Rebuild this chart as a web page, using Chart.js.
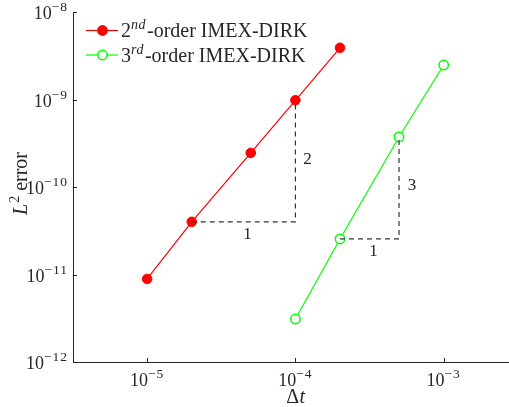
<!DOCTYPE html>
<html>
<head>
<meta charset="utf-8">
<script src="https://cdn.jsdelivr.net/npm/chart.js@4/dist/chart.umd.min.js"></script>
<style>
html,body{margin:0;padding:0;background:#fff;overflow:hidden;}
#wrap{width:524px;height:407px;}
</style>
</head>
<body>
<div id="wrap"><canvas id="c" width="524" height="407"></canvas></div>
<script>
// ---- data ----
const dt2 = [1e-5, 2e-5, 5e-5, 1e-4, 2e-4];
const err2 = [8.9e-12, 4.0e-11, 2.45e-10, 9.8e-10, 3.9e-9];
const dt3 = [1e-4, 2e-4, 5e-4, 1e-3];
const err3 = [3.1e-12, 2.55e-11, 3.73e-10, 2.48e-9];
const tri2X = [2e-5, 1e-4, 1e-4];
const tri2Y = [4.0e-11, 4.0e-11, 9.8e-10];
const tri3X = [2e-4, 5e-4, 5e-4];
const tri3Y = [2.55e-11, 2.55e-11, 3.73e-10];
const xTickVals = [1e-5, 1e-4, 1e-3];
const xTickExp = ['\u22125', '\u22124', '\u22123'];
const yTickVals = [1e-8, 1e-9, 1e-10, 1e-11, 1e-12];
const yTickExp = ['\u22128', '\u22129', '\u221210', '\u221211', '\u221212'];
const seriesNames = [['2','nd','-order IMEX-DIRK'], ['3','rd','-order IMEX-DIRK']];

const FONT = '"Liberation Serif", "DejaVu Serif", serif';
const TXT = '#262626';

function pts(xs, ys){ return xs.map((x,i)=>({x:x, y:ys[i]})); }

function drawSup(ctx, base, sup, x, y, align, size, ssize, raise, supStyle, ls){
  supStyle = supStyle || '';
  ls = ls || '0px';
  ctx.letterSpacing = '0px';
  ctx.font = size + 'px ' + FONT;
  const wb = ctx.measureText(base).width;
  ctx.letterSpacing = ls;
  ctx.font = supStyle + ssize + 'px ' + FONT;
  const ws = ctx.measureText(sup).width;
  const tot = wb + ws;
  let x0 = x;
  if (align === 'center') x0 = x - tot/2;
  else if (align === 'right') x0 = x - tot;
  ctx.textAlign = 'left';
  ctx.textBaseline = 'alphabetic';
  ctx.letterSpacing = '0px';
  ctx.font = size + 'px ' + FONT;
  ctx.fillText(base, x0, y);
  ctx.letterSpacing = ls;
  ctx.font = supStyle + ssize + 'px ' + FONT;
  ctx.fillText(sup, x0 + wb, y - raise);
  ctx.letterSpacing = '0px';
  return x0 + tot;
}

const deco = {
  id: 'deco',
  afterDraw(chart){
    const ctx = chart.ctx;
    const xs = chart.scales.x, ys = chart.scales.y;
    const ca = chart.chartArea;
    ctx.save();
    ctx.strokeStyle = TXT;
    ctx.lineWidth = 1;
    // inward ticks
    xTickVals.forEach(v=>{
      const px = Math.round(xs.getPixelForValue(v)) + 0.5;
      ctx.beginPath(); ctx.moveTo(px, ca.bottom); ctx.lineTo(px, ca.bottom - 4); ctx.stroke();
    });
    yTickVals.forEach(v=>{
      const py = Math.round(ys.getPixelForValue(v)) + 0.5;
      ctx.beginPath(); ctx.moveTo(ca.left, py); ctx.lineTo(ca.left + 4, py); ctx.stroke();
    });
    ctx.fillStyle = TXT;
    // tick labels
    xTickVals.forEach((v,i)=>{
      const px = xs.getPixelForValue(v);
      drawSup(ctx, '10', xTickExp[i], px, ca.bottom + 24, 'center', 18, 13.5, 8, '', '1px');
    });
    yTickVals.forEach((v,i)=>{
      const py = ys.getPixelForValue(v);
      drawSup(ctx, '10', yTickExp[i], ca.left - 5, py + 7, 'right', 18, 13.5, 8, '', '1px');
    });
    // x title
    const xt = xs.getPixelForValue(1e-4);
    ctx.font = '20px ' + FONT;
    const wD = ctx.measureText('\u0394').width;
    ctx.font = 'italic 20px ' + FONT;
    const wt = ctx.measureText('t').width;
    ctx.textAlign = 'left';
    ctx.font = '20px ' + FONT;
    ctx.fillText('\u0394', xt - (wD+wt)/2, 403);
    ctx.font = 'italic 20px ' + FONT;
    ctx.fillText('t', xt - (wD+wt)/2 + wD + 0.5, 403);
    // y title rotated
    ctx.save();
    ctx.translate(27, 184);
    ctx.rotate(-Math.PI/2);
    ctx.font = 'italic 20px ' + FONT;
    const wL = ctx.measureText('L').width;
    ctx.font = '14px ' + FONT;
    const w2 = ctx.measureText('2').width;
    ctx.font = '20px ' + FONT;
    const wE = ctx.measureText(' error').width;
    let x0 = -(wL + w2 + wE)/2;
    ctx.font = 'italic 20px ' + FONT; ctx.fillText('L', x0, 0);
    ctx.font = '14px ' + FONT; ctx.fillText('2', x0 + wL + 1, -8);
    ctx.font = '20px ' + FONT; ctx.fillText(' error', x0 + wL + w2 + 1, 0);
    ctx.restore();
    // slope labels
    ctx.font = '17px ' + FONT;
    ctx.textAlign = 'center';
    ctx.textBaseline = 'middle';
    const lab = (t, xv, yv, dx, dy)=>{
      ctx.fillText(t, xs.getPixelForValue(xv) + dx, ys.getPixelForValue(yv) + dy);
    };
    lab('1', Math.sqrt(tri2X[0]*tri2X[1]), tri2Y[0], 4, 13);
    lab('2', tri2X[1], Math.sqrt(tri2Y[1]*tri2Y[2]), 12, -2);
    lab('1', Math.sqrt(tri3X[0]*tri3X[1]), tri3Y[0], 4, 13);
    lab('3', tri3X[1], Math.sqrt(tri3Y[1]*tri3Y[2]), 13, -2);
    // legend
    const leg = [{c:'#ff0000', fill:'#ff0000'}, {c:'#00ff00', fill:'#ffffff'}];
    leg.forEach((l,i)=>{
      const y = 30.5 + i*24.5;
      ctx.strokeStyle = l.c; ctx.lineWidth = 1.2;
      ctx.beginPath(); ctx.moveTo(86, y); ctx.lineTo(118, y); ctx.stroke();
      ctx.beginPath(); ctx.arc(102.5, y, 4.7, 0, Math.PI*2);
      ctx.fillStyle = l.fill; ctx.fill(); ctx.lineWidth = 1.5; ctx.stroke();
      ctx.fillStyle = TXT;
      const n = seriesNames[i];
      const xe = drawSup(ctx, n[0], n[1], 121, y + 6.5, 'left', 20, 14, 8, 'italic ', '0.5px');
      ctx.font = '20px ' + FONT;
      ctx.textAlign = 'left';
      ctx.fillText(n[2], xe + 1, y + 6.5);
    });
    ctx.restore();
  }
};

new Chart(document.getElementById('c'), {
  type: 'line',
  data: {
    datasets: [
      { data: pts(tri2X, tri2Y), borderColor: '#333', borderWidth: 1.2, borderDash: [5,4], pointRadius: 0, fill: false, tension: 0 },
      { data: pts(tri3X, tri3Y), borderColor: '#333', borderWidth: 1.2, borderDash: [5,4], pointRadius: 0, fill: false, tension: 0 },
      { data: pts(dt2, err2), borderColor: '#ff0000', backgroundColor: '#ff0000', borderWidth: 1.2, pointRadius: 4.8, pointBorderWidth: 1, pointBackgroundColor: '#ff0000', pointBorderColor: '#ff0000', fill: false, tension: 0 },
      { data: pts(dt3, err3), borderColor: '#00ff00', backgroundColor: '#ffffff', borderWidth: 1.2, pointRadius: 4.7, pointBorderWidth: 1.5, pointBackgroundColor: '#ffffff', pointBorderColor: '#00ff00', fill: false, tension: 0 }
    ]
  },
  options: {
    responsive: false,
    animation: false,
    events: [],
    layout: { padding: { left: 0, right: 2, top: 12, bottom: 0 } },
    plugins: { legend: { display: false }, tooltip: { enabled: false } },
    scales: {
      x: {
        type: 'logarithmic', min: Math.pow(10,-5.5), max: Math.pow(10,-2.5),
        grid: { display: false, drawTicks: false },
        border: { display: true, color: TXT, width: 1 },
        ticks: { display: false },
        afterFit(s){ s.height = 45; }
      },
      y: {
        type: 'logarithmic', min: 1e-12, max: 1e-8,
        grid: { display: false, drawTicks: false },
        border: { display: true, color: TXT, width: 1 },
        ticks: { display: false },
        afterFit(s){ s.width = 73; }
      }
    }
  },
  plugins: [deco]
});
</script>
</body>
</html>
